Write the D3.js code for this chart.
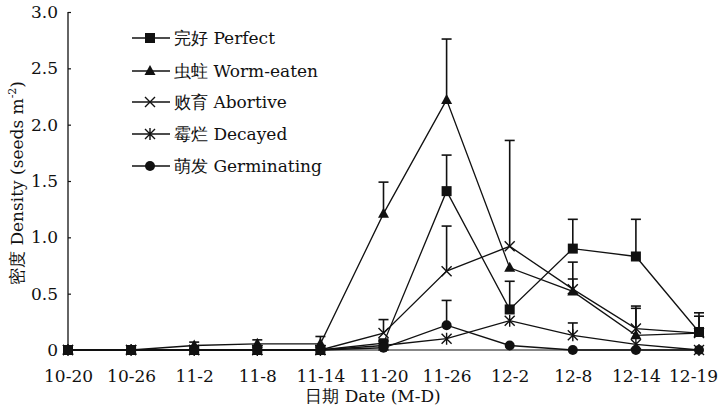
<!DOCTYPE html>
<html><head><meta charset="utf-8">
<script src="https://cdn.jsdelivr.net/npm/d3@7"></script>
<style>
body{margin:0;background:#fff;}
svg{display:block;}
svg text{font-family:"DejaVu Serif";}
</style></head><body>
<svg id="c" width="718" height="412"></svg>
<script>
const categories = ["10-20","10-26","11-2","11-8","11-14","11-20","11-26","12-2","12-8","12-14","12-19"];
const yTicks = [0,0.5,1.0,1.5,2.0,2.5,3.0];
const perfect     = [0,0,0,0,0,0.06,1.41,0.36,0.90,0.83,0.16];
const perfectErr  = [null,null,null,null,null,null,1.73,0.61,1.16,1.16,0.33];
const worm        = [0,0,0.04,0.055,0.055,1.21,2.22,0.73,0.52,0.13,0.15];
const wormErr     = [null,null,0.07,0.09,0.12,1.49,2.76,null,0.78,0.37,0.30];
const abortive    = [0,0,0,0,0,0.15,0.70,0.92,0.54,0.19,0.15];
const abortiveErr = [null,null,null,null,null,0.27,1.10,1.86,0.63,0.39,null];
const decayed     = [0,0,0,0,0,0.04,0.10,0.26,0.13,0.05,0];
const decayedErr  = [null,null,null,null,null,null,null,null,0.24,null,null];
const germ        = [0,0,0,0,0,0.02,0.22,0.04,0,0,0];
const germErr     = [null,null,null,null,null,null,0.44,null,null,null,null];
const seriesNames = ["完好 Perfect","虫蛀 Worm-eaten","败育 Abortive","霉烂 Decayed","萌发 Germinating"];
const markers = ["square","triangle","cross","asterisk","circle"];

const series = [
  {name:seriesNames[0], vals:perfect, err:perfectErr, m:markers[0]},
  {name:seriesNames[1], vals:worm, err:wormErr, m:markers[1]},
  {name:seriesNames[2], vals:abortive, err:abortiveErr, m:markers[2]},
  {name:seriesNames[3], vals:decayed, err:decayedErr, m:markers[3]},
  {name:seriesNames[4], vals:germ, err:germErr, m:markers[4]},
];

const svg = d3.select("#c");
const x = d3.scalePoint().domain(categories).range([68,699]);
const y = d3.scaleLinear().domain([0,3]).range([350,12]);

const yAxis = d3.axisLeft(y).tickValues(yTicks).tickSize(-3).tickPadding(10)
  .tickFormat(d => d===0 ? "0" : d3.format(".1f")(d));
const gy = svg.append("g").attr("transform","translate(68,0)").call(yAxis);
gy.select(".domain").attr("d","M0,12V350").attr("stroke","#111").attr("stroke-width",1.3);
gy.selectAll(".tick line").attr("stroke","#111").attr("stroke-width",1.2);
gy.selectAll("text").attr("font-size",17).attr("fill","#111");

const xAxis = d3.axisBottom(x).tickSize(0).tickPadding(20);
const gx = svg.append("g").attr("transform","translate(0,350)").call(xAxis);
gx.select(".domain").attr("d","M68,0H699").attr("stroke","#111").attr("stroke-width",1.2);
gx.selectAll("text").attr("font-size",17).attr("fill","#111")
  .attr("dx",(d,i)=> i===categories.length-1 ? -6 : 0);

svg.append("text").attr("x",373).attr("y",402).attr("text-anchor","middle").attr("font-size",17)
  .attr("fill","#111").text("日期 Date (M-D)");
const yl = svg.append("text").attr("transform","translate(23,183) rotate(-90)").attr("text-anchor","middle")
  .attr("font-size",17).attr("fill","#111");
yl.append("tspan").text("密度 Density (seeds m");
yl.append("tspan").attr("dy",-7).attr("font-size",11).text("-2");
yl.append("tspan").attr("dy",7).text(")");

function drawMarker(g, type, cx, cy){
  const s = 5;
  if(type==="square"){
    g.append("rect").attr("x",cx-s).attr("y",cy-s).attr("width",2*s).attr("height",2*s).attr("fill","#111");
  } else if(type==="triangle"){
    g.append("path").attr("d",`M${cx},${cy-6}L${cx+5.5},${cy+4}L${cx-5.5},${cy+4}Z`).attr("fill","#111");
  } else if(type==="circle"){
    g.append("circle").attr("cx",cx).attr("cy",cy).attr("r",5).attr("fill","#111");
  } else if(type==="cross"){
    g.append("path").attr("d",`M${cx-5},${cy-5}L${cx+5},${cy+5}M${cx-5},${cy+5}L${cx+5},${cy-5}`)
      .attr("stroke","#111").attr("stroke-width",1.4);
  } else if(type==="asterisk"){
    g.append("path").attr("d",`M${cx-5},${cy-5}L${cx+5},${cy+5}M${cx-5},${cy+5}L${cx+5},${cy-5}M${cx},${cy-6}L${cx},${cy+6}`)
      .attr("stroke","#111").attr("stroke-width",1.4);
  }
}

const line = d3.line().x((d,i)=>x(categories[i])).y(d=>y(d));
const plot = svg.append("g");
series.forEach(s=>{
  s.err.forEach((e,i)=>{
    if(e==null) return;
    const cx = x(categories[i]);
    plot.append("line").attr("x1",cx).attr("x2",cx).attr("y1",y(s.vals[i])).attr("y2",y(e))
      .attr("stroke","#111").attr("stroke-width",1.6);
    plot.append("line").attr("x1",cx-5).attr("x2",cx+5).attr("y1",y(e)).attr("y2",y(e))
      .attr("stroke","#111").attr("stroke-width",1.6);
  });
});
series.forEach(s=>{
  plot.append("path").datum(s.vals).attr("d",line).attr("fill","none").attr("stroke","#111").attr("stroke-width",1.3);
});
series.forEach(s=>{
  s.vals.forEach((v,i)=>drawMarker(plot, s.m, x(categories[i]), y(v)));
});

const legY = [38,71,102,134,166];
series.forEach((s,i)=>{
  const g = svg.append("g");
  g.append("line").attr("x1",132).attr("x2",170).attr("y1",legY[i]).attr("y2",legY[i]).attr("stroke","#111").attr("stroke-width",1.3);
  drawMarker(g, s.m, 150, legY[i]);
  g.append("text").attr("x",174).attr("y",legY[i]).attr("dy","0.35em").attr("font-size",17)
    .attr("fill","#111").text(s.name);
});
</script>
</body></html>
